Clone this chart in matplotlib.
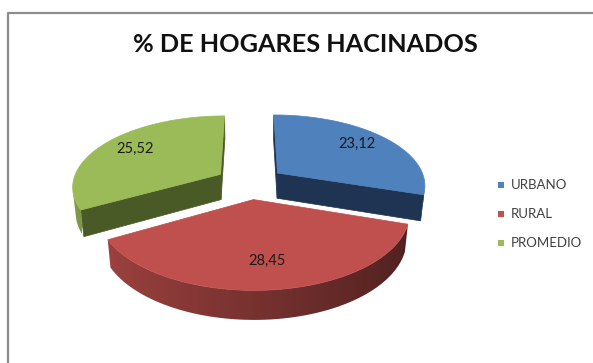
import numpy as np
import matplotlib.pyplot as plt
from matplotlib.colors import to_rgb
from matplotlib.patches import Polygon, Rectangle

labels = ["URBANO", "RURAL", "PROMEDIO"]
values = [23.12, 28.45, 25.52]

top_colors = ["#4F81BD", "#C0504D", "#9BBB59"]
face_colors = ["#1E3452", "#6E2624", "#495A26"]

# 3-D view of the pie: tilt of the disc, camera distance, pixel scale
tilt = np.radians(28.3)
cam = 5.5
scale = 148
cx, cy = 250, 182.5
thick = 0.2
explode = 0.235
cam_pos = cam * np.array([0.0, -np.cos(tilt), np.sin(tilt)])


def project(x, y, z):
    k = cam / (cam + y * np.cos(tilt) - z * np.sin(tilt))
    u = x * k
    v = (y * np.sin(tilt) + z * np.cos(tilt)) * k
    return cx + scale * u, cy - scale * v


def facing(normal, point):
    return np.dot(normal, cam_pos - np.asarray(point)) > 0


fig = plt.figure(figsize=(5.93, 3.63), dpi=100)
ax = fig.add_axes([0, 0, 1, 1])
ax.set_xlim(0, 593)
ax.set_ylim(363, 0)
ax.axis("off")

# chart frame
ax.plot([8, 8, 593], [363, 12.5, 12.5], color="#8C8C8C", lw=1.6, solid_capstyle="butt")

fig.text(305 / 593, 1 - 52 / 363, "% DE HOGARES HACINADOS", ha="center", va="baseline",
         fontsize=18.2, fontweight="bold", family="Lato", color="#111111")

total = sum(values)
bounds = np.concatenate([[0], np.cumsum(values) / total * 360])

slices = []
for i, val in enumerate(values):
    t0, t1 = np.radians(bounds[i]), np.radians(bounds[i + 1])
    tm = (t0 + t1) / 2
    ex, ey = explode * np.sin(tm), explode * np.cos(tm)
    slices.append((ey, i, t0, t1, tm, ex))

z = 2
# back slices first
for ey, i, t0, t1, tm, ex in sorted(slices, reverse=True):
    th = np.linspace(t0, t1, 200)
    ox, oy = ex + np.sin(th), ey + np.cos(th)

    # radial cut faces
    for t, n in ((t0, (-np.cos(t0), np.sin(t0), 0)), (t1, (np.cos(t1), -np.sin(t1), 0))):
        if facing(n, (ex, ey, 0)):
            ptsx = [ex, ex + np.sin(t), ex + np.sin(t), ex]
            ptsy = [ey, ey + np.cos(t), ey + np.cos(t), ey]
            ptsz = [0, 0, -thick, -thick]
            poly = [project(a, b, c) for a, b, c in zip(ptsx, ptsy, ptsz)]
            ax.add_patch(Polygon(poly, closed=True, fc=face_colors[i], ec=face_colors[i],
                                 lw=0.5, zorder=z))
            z += 1

    # outer rim, shaded darker towards the right
    vis = np.array([t for t in th
                    if facing((np.sin(t), np.cos(t), 0),
                              (ex + np.sin(t), ey + np.cos(t), -thick / 2))])
    if len(vis) > 1:
        upper = [project(ex + np.sin(t), ey + np.cos(t), 0) for t in vis]
        lower = [project(ex + np.sin(t), ey + np.cos(t), -thick) for t in vis]
        rim = Polygon(upper + lower[::-1], closed=True, fc="none", ec="none", zorder=z)
        ax.add_patch(rim)
        xs = np.array([p[0] for p in upper])
        ys = np.array([p[1] for p in upper + lower])
        f = 0.62 - 0.22 * np.sin(vis)
        order = np.argsort(xs)
        gx = np.linspace(xs.min(), xs.max(), 300)
        gf = np.interp(gx, xs[order], f[order])
        img = np.clip(np.array(to_rgb(top_colors[i]))[None, None, :] * gf[None, :, None], 0, 1)
        im = ax.imshow(img, extent=(xs.min() - 1, xs.max() + 1, ys.max() + 1, ys.min() - 1),
                       aspect="auto", interpolation="bilinear", zorder=z)
        im.set_clip_path(rim)
        z += 1

    # top face
    top = [project(ex, ey, 0)] + [project(a, b, 0) for a, b in zip(ox, oy)]
    ax.add_patch(Polygon(top, closed=True, fc=top_colors[i], ec=top_colors[i], lw=0.5, zorder=z))
    z += 1

    r = 0.74
    lx, ly = project(ex + r * np.sin(tm), ey + r * np.cos(tm), 0)
    ax.text(lx, ly - 2, f"{values[i]:.2f}".replace(".", ","), ha="center", va="center",
            fontsize=10.5, family="Lato", color="#1A1A1A", zorder=50)

# legend
for k, name in enumerate(labels):
    y = 185 + 29 * k
    ax.add_patch(Rectangle((498, y - 3), 6, 6, fc=top_colors[k], ec="none"))
    ax.text(511, y, name, ha="left", va="center", fontsize=9.5, family="Lato", color="#404040")

fig.savefig("out.png", dpi=100)
